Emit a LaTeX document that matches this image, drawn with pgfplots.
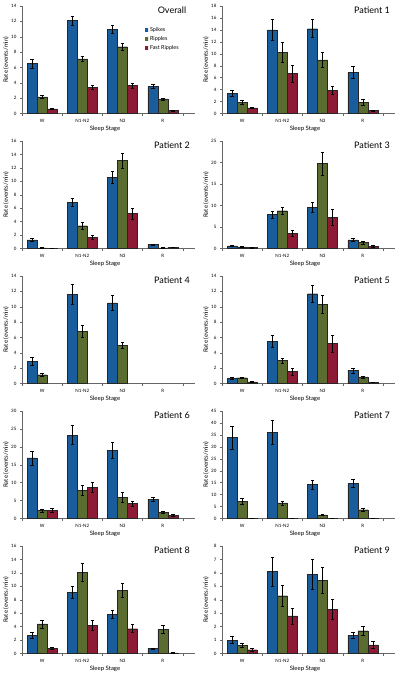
\documentclass[border=0pt]{standalone}
\usepackage{fontspec}
\setmainfont{Lato}
\usepackage{pgfplots}
\usepackage{pgfplotstable}
\pgfplotsset{compat=1.18}
\usepgfplotslibrary{groupplots}
\usetikzlibrary{calc}
\definecolor{cblue}{HTML}{1F6DB8}
\definecolor{cgreen}{HTML}{6B7F3A}
\definecolor{cred}{HTML}{A6203F}

\pgfplotstableread{
x s se r re f fe
0 6.5 0.6 2.15 0.2 0.6 0.1
1 12.1 0.6 7.1 0.35 3.4 0.3
2 11.0 0.5 8.7 0.45 3.65 0.3
3 3.55 0.3 1.9 0.15 0.4 0.05
}\tOverall
\pgfplotstableread{
x s se r re f fe
0 3.4 0.5 1.9 0.35 0.95 0.15
1 14.0 1.8 10.2 1.7 6.7 1.4
2 14.2 1.5 9.0 1.3 3.9 0.7
3 6.9 1.0 1.9 0.5 0.5 0.1
}\tPa
\pgfplotstableread{
x s se r re f fe
0 1.3 0.2 0.1 0.02 0.05 0.01
1 6.9 0.6 3.4 0.5 1.65 0.3
2 10.6 0.9 13.1 1.1 5.2 0.8
3 0.6 0.1 0.1 0.02 0.15 0.02
}\tPb
\pgfplotstableread{
x s se r re f fe
0 0.6 0.1 0.4 0.1 0.2 0.03
1 7.9 0.8 8.8 0.9 3.6 0.7
2 9.6 1.1 19.8 2.7 7.3 1.8
3 2.0 0.4 1.4 0.3 0.5 0.2
}\tPc
\pgfplotstableread{
x s se r re f fe
0 2.9 0.5 1.15 0.25 0 0
1 11.6 1.3 6.8 0.8 0 0
2 10.5 1.0 5.0 0.35 0 0
}\tPd
\pgfplotstableread{
x s se r re f fe
0 0.7 0.1 0.75 0.1 0.2 0.05
1 5.5 0.8 3.0 0.35 1.55 0.5
2 11.7 1.1 10.3 1.2 5.2 1.1
3 1.7 0.35 0.85 0.15 0.15 0.03
}\tPe
\pgfplotstableread{
x s se r re f fe
0 16.9 2.0 2.2 0.5 2.3 0.6
1 23.3 2.6 7.9 1.3 8.7 1.3
2 19.0 2.2 5.9 1.3 4.2 0.7
3 5.4 0.6 1.8 0.3 0.9 0.2
}\tPf
\pgfplotstableread{
x s se r re f fe
0 34.0 4.8 7.1 1.3 0.2 0.05
1 36.0 5.0 6.5 0.9 0.2 0.05
2 14.2 1.8 1.5 0.3 0.1 0.02
3 14.7 1.8 3.7 0.5 0.1 0.02
}\tPg
\pgfplotstableread{
x s se r re f fe
0 2.7 0.4 4.4 0.6 0.8 0.1
1 9.1 0.9 12.1 1.3 4.2 0.7
2 5.8 0.6 9.4 1.0 3.7 0.6
3 0.75 0.1 3.6 0.6 0.1 0.02
}\tPh
\pgfplotstableread{
x s se r re f fe
0 1.0 0.25 0.62 0.12 0.28 0.08
1 6.1 1.1 4.3 0.8 2.8 0.6
2 5.9 1.1 5.45 1.0 3.3 0.75
3 1.35 0.25 1.7 0.35 0.65 0.25
}\tPi

\pgfplotsset{
  barbase/.style={draw=black!85, line width=0.3pt,
    error bars/y dir=both, error bars/y explicit,
    error bars/error bar style={line width=0.5pt, black},
    error bars/error mark options={rotate=90, mark size=1.8pt, line width=0.5pt, black}},
  sp/.style={barbase, left color=cblue!85!black, middle color=cblue!92!white, right color=cblue!85!black},
  rp/.style={barbase, left color=cgreen!85!black, middle color=cgreen!92!white, right color=cgreen!85!black},
  fr/.style={barbase, left color=cred!85!black, middle color=cred!92!white, right color=cred!85!black},
}
\newcommand{\twobars}[1]{%
  \addplot[sp] table[x=x,y=s,y error=se]{#1};
  \addplot[rp] table[x=x,y=r,y error=re]{#1};}
\newcommand{\threebars}[1]{%
  \twobars{#1}
  \addplot[fr] table[x=x,y=f,y error=fe]{#1};}
\newcommand{\ptitle}[1]{\node[font=\fontsize{9}{10}\selectfont] at (axis description cs:0.867,0.963) {#1};}

\begin{document}
\begin{tikzpicture}
\begin{groupplot}[
  group style={group size=2 by 5, horizontal sep=27pt, vertical sep=27.5pt},
  scale only axis, width=173pt, height=107.5pt,
  ybar=0pt, /pgf/bar width=10pt,
  xmin=-0.5, xmax=3.8, ymin=0,
  axis x line=bottom, axis y line=left,
  axis line style={-, black!60, line width=0.4pt},
  tick align=outside,
  xtick={0,1,2,3}, xticklabels={W,N1-N2,N3,R},
  major x tick style={draw=none},
  minor xtick={-0.5,0.5,1.5,2.5,3.5},
  minor tick length=2pt, major tick length=2pt,
  tick style={black!60, line width=0.4pt},
  /pgf/number format/assume math mode=true,
  tick label style={font=\fontsize{4.5}{5}\selectfont},
  xlabel={Sleep Stage}, ylabel={Rate (events/min)},
  label style={font=\fontsize{6}{7}\selectfont},
  xlabel style={at={(axis description cs:0.48,-0.14)}, anchor=center},
  ylabel style={at={(axis description cs:-0.0925,0.5)}, anchor=center},
  legend image code/.code={\fill[#1,draw=none] (0pt,-1.5pt) rectangle (3pt,1.5pt);},
]
\nextgroupplot[ymax=14, ytick distance=2,
  legend style={at={(axis description cs:0.71,0.82)}, anchor=north west, draw=none, fill=none,
    font=\fontsize{5.5}{6}\selectfont, row sep=-0.5pt, inner sep=0pt,
    cells={anchor=west}}]
\threebars{\tOverall}
\legend{Spikes,Ripples,Fast Ripples}
\ptitle{Overall}
\nextgroupplot[ymax=18, ytick distance=2]
\threebars{\tPa}
\ptitle{Patient 1}
\nextgroupplot[ymax=16, ytick distance=2]
\threebars{\tPb}
\ptitle{Patient 2}
\nextgroupplot[ymax=25, ytick distance=5]
\threebars{\tPc}
\ptitle{Patient 3}
\nextgroupplot[ymax=14, ytick distance=2]
\twobars{\tPd}
\addplot[draw=none, fill=none] table[x=x,y=f]{\tPd};
\ptitle{Patient 4}
\nextgroupplot[ymax=14, ytick distance=2]
\threebars{\tPe}
\ptitle{Patient 5}
\nextgroupplot[ymax=30, ytick distance=5]
\threebars{\tPf}
\ptitle{Patient 6}
\nextgroupplot[ymax=45, ytick distance=5]
\threebars{\tPg}
\ptitle{Patient 7}
\nextgroupplot[ymax=16, ytick distance=2]
\threebars{\tPh}
\ptitle{Patient 8}
\nextgroupplot[ymax=8, ytick distance=1]
\threebars{\tPi}
\ptitle{Patient 9}
\end{groupplot}
\pgfresetboundingbox
\path ($(group c1r1.north west)+(-22pt,6pt)$) rectangle ($(group c2r5.south east)+(5pt,-22.5pt)$);
\end{tikzpicture}
\end{document}
